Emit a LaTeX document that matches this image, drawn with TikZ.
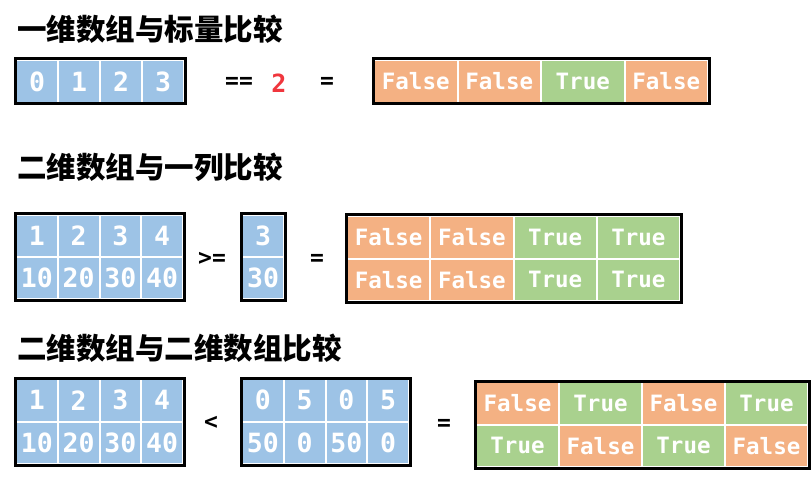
\documentclass[tikz,border=0pt]{standalone}
\usepackage{fontspec}
\usetikzlibrary{fit}
\newfontfamily\cjkf{Noto Sans CJK SC}
\newfontfamily\monof{DejaVu Sans Mono}
\definecolor{cb}{HTML}{9DC3E6}
\definecolor{co}{HTML}{F4B183}
\definecolor{cg}{HTML}{A9D18E}
\definecolor{cr}{HTML}{F0363D}
\tikzset{
  title/.style={anchor=west, inner sep=0pt, font=\cjkf\bfseries\fontsize{29.5}{29.5}\selectfont},
  cell/.style={draw=white, line width=2pt, inner sep=0pt, text=white},
  numcell/.style={cell, fill=cb, font=\monof\bfseries\fontsize{26.5}{26.5}\selectfont},
  boolcell/.style={cell, font=\monof\bfseries\fontsize{22.5}{22.5}\selectfont},
  frame/.style={draw=black, line width=3pt},
  op/.style={inner sep=0pt, font=\monof\bfseries\fontsize{23}{23}\selectfont},
}
\begin{document}
\begin{tikzpicture}[x=1pt,y=-1pt]
\useasboundingbox (0,0) rectangle (811,481);
% ---------- section 1
\node[title] (t1) at (17,29) {一维数组与标量比较};
\foreach \t [count=\i] in {0,1,2,3}
  \node[numcell, minimum width=42pt, minimum height=43pt] (a1\i) at ({16+42*(\i-0.5)},81.5) {\t};
\node[fit=(a11)(a14), inner sep=0pt, frame] (fa1) {};
\node[op] (op1) at (239,83) {==};
\node[op, text=cr, font=\monof\bfseries\fontsize{25}{25}\selectfont] (s1) at (279,83) {2};
\node[op] (eq1) at (327,83) {=};
\foreach \t/\c [count=\i] in {False/co,False/co,True/cg,False/co}
  \node[boolcell, fill=\c, minimum width=83.5pt, minimum height=43pt] (r1\i) at ({374+83.5*(\i-0.5)},81.5) {\t};
\node[fit=(r11)(r14), inner sep=0pt, frame] (fr1) {};
% ---------- section 2
\node[title] (t2) at (17,167) {二维数组与一列比较};
\foreach \t/\u [count=\i] in {1/10,2/20,3/30,4/40}{
  \node[numcell, minimum width=41.75pt, minimum height=42pt] (b1\i) at ({16+41.75*(\i-0.5)},236) {\t};
  \node[numcell, minimum width=41.75pt, minimum height=42pt] (b2\i) at ({16+41.75*(\i-0.5)},278) {\u};
}
\node[fit=(b11)(b24), inner sep=0pt, frame] (fb) {};
\node[op] (op2) at (212,259) {>=};
\node[numcell, minimum width=42pt, minimum height=42pt] (c1) at (263,236) {3};
\node[numcell, minimum width=42pt, minimum height=42pt] (c2) at (263,278) {30};
\node[fit=(c1)(c2), inner sep=0pt, frame] (fc) {};
\node[op] (eq2) at (317,260) {=};
\foreach \t/\c [count=\i] in {False/co,False/co,True/cg,True/cg}{
  \node[boolcell, fill=\c, minimum width=83.25pt, minimum height=42.5pt] (r2a\i) at ({347+83.25*(\i-0.5)},237.25) {\t};
  \node[boolcell, fill=\c, minimum width=83.25pt, minimum height=42.5pt] (r2b\i) at ({347+83.25*(\i-0.5)},279.75) {\t};
}
\node[fit=(r2a1)(r2b4), inner sep=0pt, frame] (fr2) {};
% ---------- section 3
\node[title] (t3) at (17,348) {二维数组与二维数组比较};
\foreach \t/\u [count=\i] in {1/10,2/20,3/30,4/40}{
  \node[numcell, minimum width=41.75pt, minimum height=42.5pt] (d1\i) at ({16+41.75*(\i-0.5)},400.25) {\t};
  \node[numcell, minimum width=41.75pt, minimum height=42.5pt] (d2\i) at ({16+41.75*(\i-0.5)},442.75) {\u};
}
\node[fit=(d11)(d24), inner sep=0pt, frame] (fd) {};
\node[op] (op3) at (211,423) {<};
\foreach \t/\u [count=\i] in {0/50,5/0,0/50,5/0}{
  \node[numcell, minimum width=41.75pt, minimum height=42.5pt] (e1\i) at ({242+41.75*(\i-0.5)},400.25) {\t};
  \node[numcell, minimum width=41.75pt, minimum height=42.5pt] (e2\i) at ({242+41.75*(\i-0.5)},442.75) {\u};
}
\node[fit=(e11)(e24), inner sep=0pt, frame] (fe) {};
\node[op] (eq3) at (444,425) {=};
\foreach \t/\c/\u/\d [count=\i] in {False/co/True/cg,True/cg/False/co,False/co/True/cg,True/cg/False/co}{
  \node[boolcell, fill=\c, minimum width=83pt, minimum height=42.5pt] (r3a\i) at ({476+83*(\i-0.5)},403.25) {\t};
  \node[boolcell, fill=\d, minimum width=83pt, minimum height=42.5pt] (r3b\i) at ({476+83*(\i-0.5)},445.75) {\u};
}
\node[fit=(r3a1)(r3b4), inner sep=0pt, frame] (fr3) {};
\end{tikzpicture}
\end{document}
